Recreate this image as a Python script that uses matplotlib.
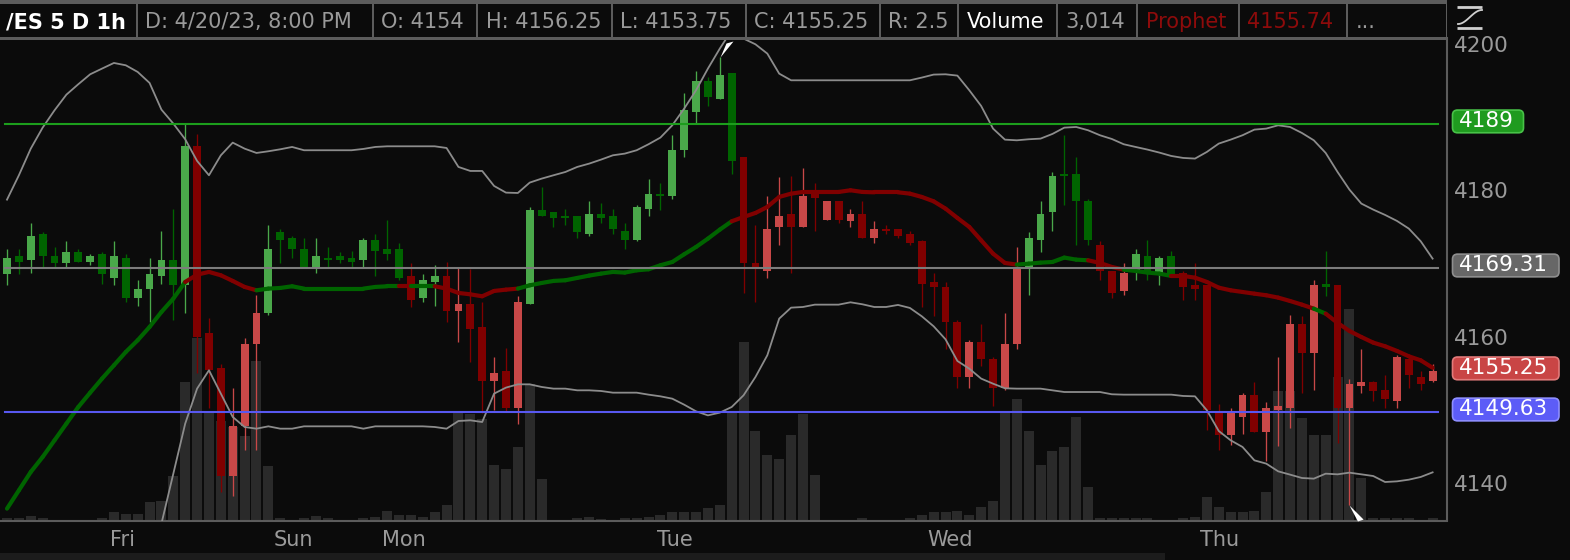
import numpy as np
import matplotlib
matplotlib.use("Agg")
import matplotlib.pyplot as plt
from matplotlib.collections import LineCollection
from matplotlib.patches import Rectangle, FancyBboxPatch

plt.rcParams['font.family'] = ['DejaVu Sans']
nan = float('nan')

# ------------------------------------------------------------------ data
symbol = '/ES 5 D 1h'
bar_time = '4/20/23, 8:00 PM'

opens = [4168.5, 4171, 4170.5, 4174, 4171, 4170, 4171.5, 4170.25, 4171.25, 4168,
         4170.75, 4165.25, 4166.5, 4168.25, 4170.5, 4167, 4186, 4160.5, 4155.75, 4141,
         4147.75, 4159, 4163.25, 4174.25, 4173.5, 4172, 4169.5, 4170.75, 4171, 4170.75,
         4170.5, 4173.25, 4172, 4172, 4168.25, 4165.25, 4167.5, 4168.25, 4163.5, 4164.5,
         4161.25, 4154, 4155.25, 4150.25, 4164.5, 4177.25, 4177, 4176.5, 4176.5, 4174,
         4176.75, 4176.5, 4174.5, 4173.25, 4177.5, 4179.5, 4179.25, 4185.5, 4190.75, 4195,
         4192.5, 4196, 4184.5, 4170, 4169, 4175, 4176.75, 4175, 4179.75, 4176,
         4178.5, 4175.75, 4176.75, 4173.5, 4174.75, 4174.75, 4174, 4173, 4167.5, 4166.75,
         4162, 4154.5, 4159.25, 4157, 4153, 4159, 4169.5, 4173.25, 4177, 4182.25,
         4182.25, 4178.5, 4172.5, 4169, 4166.25, 4169, 4171, 4168.75, 4171, 4168.75,
         4167, 4167, 4149.5, 4146.5, 4149, 4152, 4147, 4150, 4150.25, 4161.75,
         4157.75, 4167.25, 4167, 4150.25, 4153.25, 4153.75, 4152.75, 4151.25, 4157, 4154.5,
         4154]
highs = [4172, 4172, 4175.5, 4174.25, 4172.25, 4173, 4172, 4171.25, 4171.5, 4173,
         4171.25, 4167.75, 4170.75, 4174.5, 4177.5, 4189, 4187.75, 4162.5, 4156.25, 4153,
         4159.75, 4165.75, 4175.25, 4174.75, 4173.75, 4173.5, 4173.5, 4172.25, 4171.5, 4171.75,
         4173.5, 4174, 4176, 4172.75, 4170, 4168.5, 4169.75, 4170.25, 4169.5, 4169.25,
         4164.75, 4157.25, 4158.5, 4165.5, 4177.75, 4180.5, 4177, 4177.5, 4176.5, 4178.5,
         4178.25, 4177.5, 4175.5, 4178, 4181.5, 4181, 4187.5, 4193.25, 4196.25, 4195.5,
         4198.25, 4196, 4184.5, 4175.25, 4179.25, 4181.75, 4182, 4183, 4181, 4178.5,
         4178.5, 4177.5, 4178.5, 4175.75, 4175.25, 4174.75, 4174.5, 4173.25, 4168.75, 4167.5,
         4162.25, 4159.5, 4161.75, 4157.25, 4163.25, 4172.25, 4174.25, 4178.5, 4182.5, 4187.5,
         4184.5, 4178.75, 4173, 4169, 4170, 4172, 4173.25, 4171, 4171.75, 4169,
         4170, 4167, 4150.75, 4150.25, 4152.25, 4153.75, 4151, 4157.25, 4163, 4162.75,
         4167.75, 4171.75, 4167, 4154.25, 4158.25, 4154, 4154.75, 4157.5, 4157.5, 4155.25,
         4156.25]
lows = [4167, 4168.5, 4168.75, 4169.5, 4169.5, 4169.5, 4170.25, 4169.75, 4167.25, 4167,
        4164.75, 4164.25, 4162, 4167.25, 4162.25, 4163.25, 4155, 4150.25, 4138.75, 4138.25,
        4144.5, 4144.5, 4163, 4170, 4170.75, 4169.5, 4168.75, 4169.5, 4170, 4169.5,
        4169.5, 4168.25, 4170.5, 4167.75, 4164, 4164.75, 4164.25, 4162, 4159.25, 4156.5,
        4149.5, 4150, 4149.75, 4148, 4164.5, 4176.5, 4175, 4175.25, 4173.5, 4173.75,
        4175.5, 4174, 4172, 4173, 4176.5, 4177.25, 4178.75, 4184.5, 4189.25, 4191.5,
        4192.5, 4182.25, 4166, 4164.75, 4168, 4172.5, 4168.75, 4175, 4174.5, 4176,
        4175.5, 4175, 4173.5, 4172.75, 4174, 4173.5, 4172.5, 4164, 4162.75, 4158.25,
        4153, 4153, 4156, 4150.5, 4152.75, 4158.25, 4165.75, 4171.5, 4174.5, 4178,
        4172.5, 4172.5, 4167.75, 4165.25, 4165.75, 4167.75, 4167.75, 4167, 4168.25, 4165,
        4165, 4147.25, 4144.5, 4145.25, 4146.75, 4147, 4143, 4145, 4147.5, 4152.25,
        4152.75, 4165.5, 4145.5, 4137, 4152.25, 4151.25, 4150.25, 4150.25, 4153, 4152.75,
        4153.75]
closes = [4170.75, 4170.25, 4173.75, 4171, 4170, 4171.5, 4170.25, 4171, 4168.5, 4171,
          4165.25, 4166.5, 4168.5, 4170.5, 4167, 4186, 4160, 4155.5, 4141, 4147.75,
          4159, 4163.25, 4172, 4173.25, 4172, 4169.5, 4171, 4170.5, 4170.5, 4170.25,
          4173.25, 4171.75, 4171.25, 4168, 4165, 4167.75, 4168.25, 4163.5, 4164.5, 4161,
          4154, 4155, 4150.25, 4164.75, 4177.25, 4176.5, 4176.25, 4176.25, 4174.25, 4176.75,
          4176.25, 4174.75, 4173.25, 4177.75, 4179.5, 4179.25, 4185.5, 4191, 4195, 4192.75,
          4195.75, 4184, 4170, 4169.5, 4174.75, 4176.5, 4175, 4179.25, 4179, 4178.5,
          4176, 4176.75, 4173.5, 4174.75, 4174.5, 4173.75, 4172.75, 4167.25, 4166.75, 4162,
          4154.5, 4159.25, 4157, 4153, 4159, 4169.25, 4173.5, 4176.75, 4182, 4182,
          4178.5, 4173.25, 4169, 4166, 4168.75, 4171.25, 4169, 4170.75, 4168.5, 4166.75,
          4166.5, 4150, 4146.5, 4149.75, 4152, 4147, 4150.25, 4150.5, 4161.75, 4157.75,
          4167, 4166.75, 4150.25, 4153.5, 4153.75, 4152.5, 4151.5, 4157.25, 4154.75, 4153.5,
          4155.25]
# volume in thousands of contracts
volumes_k = [3.5, 3.5, 6.5, 3.5, 0.5, 0.5, 0.5, 0.5, 3.5, 12.5,
             9.5, 9.5, 27.5, 30, 66.5, 207.5, 273.5, 165, 150, 140,
             126.5, 240, 81.5, 3.5, 0.5, 3.5, 6.5, 3.5, 0.5, 0.5,
             3.5, 6, 15, 9, 9, 6, 12.5, 24, 165, 160,
             152.5, 84, 77.5, 111, 205, 62.5, 0.5, 0.5, 3.5, 6,
             2, 0.5, 3.5, 3.5, 6, 9, 12.5, 12.5, 12.5, 18.5,
             24, 165, 267.5, 135, 99, 92.5, 129, 160, 69, 0.5,
             0.5, 0.5, 3.5, 0.5, 0.5, 0.5, 3.5, 9, 12.5, 12.5,
             15, 9, 21, 30, 165, 182.5, 135, 84, 105, 111,
             156, 51, 3.5, 3.5, 3.5, 3.5, 3.5, 0.5, 0.5, 3.5,
             6, 36, 21, 12.5, 12.5, 15, 42.5, 195, 195, 153.5,
             129, 129, 215, 317.5, 63.5, 3.5, 3.5, 3.5, 3.5, 0.5,
             3.014]
# Prophet trend state per bar (G = bullish, R = bearish)
trend = ("GGGGGGGGGGGGGGGG" "RRRRRR" "GGGGGGGGGGGG" "R" "GG" "RRRRRRR"
         "GGGGGGGGGGGGGGGGGG" "RRRRRRRRRRRRRRRRRRRRRRRR" "GGGGGG" "RRR" "GGGG"
         "RRRRRRRRRRRR" "G" "RRRRRRRRR")
prophet = [4136.49, 4138.99, 4141.50, 4143.55, 4145.83, 4148.11, 4150.38, 4152.34, 4154.26, 4156.08,
           4157.90, 4159.50, 4161.32, 4163.37, 4165.19, 4167.47, 4168.47, 4168.84, 4168.38, 4167.61,
           4166.79, 4166.33, 4166.56, 4166.65, 4166.88, 4166.56, 4166.56, 4166.56, 4166.56, 4166.56,
           4166.56, 4166.79, 4166.88, 4166.88, 4166.88, 4166.88, 4166.88, 4166.56, 4165.97, 4165.78,
           4165.51, 4166.24, 4166.42, 4166.56, 4167.01, 4167.33, 4167.61, 4167.70, 4168.02, 4168.34,
           4168.61, 4168.84, 4168.75, 4169.06, 4169.20, 4169.75, 4170.20, 4171.25, 4172.25, 4173.39,
           4174.62, 4175.76, 4176.35, 4176.90, 4177.72, 4179.09, 4179.54, 4179.77, 4179.77, 4179.77,
           4179.77, 4180.00, 4179.77, 4179.72, 4179.72, 4179.72, 4179.54, 4179.09, 4178.49, 4177.49,
           4176.22, 4174.99, 4173.16, 4171.34, 4170.07, 4169.84, 4169.97, 4170.11, 4170.20, 4170.80,
           4170.52, 4170.43, 4170.07, 4169.52, 4169.15, 4168.97, 4168.75, 4168.61, 4168.29, 4168.29,
           4168.06, 4167.47, 4166.69, 4166.33, 4166.10, 4165.87, 4165.65, 4165.33, 4164.87, 4164.37,
           4163.82, 4163.14, 4161.87, 4160.77, 4159.95, 4159.18, 4158.68, 4158.04, 4157.31, 4156.76,
           4155.74]
upper_band = [4178.72, 4182.05, 4185.69, 4188.56, 4190.93, 4193.07, 4194.49, 4195.85, 4196.63, 4197.40,
              4197.08, 4196.17, 4194.67, 4191.02, 4189.11, 4186.97, 4184.01, 4182.05, 4184.78, 4186.51,
              4185.69, 4185.10, 4185.33, 4185.60, 4185.92, 4185.47, 4185.47, 4185.47, 4185.47, 4185.47,
              4185.65, 4185.92, 4186.01, 4186.01, 4186.01, 4186.01, 4186.01, 4185.78, 4183.19, 4182.64,
              4182.64, 4180.59, 4179.68, 4179.63, 4181.05, 4181.59, 4182.05, 4182.50, 4183.19, 4183.64,
              4184.19, 4184.78, 4185.01, 4185.47, 4186.29, 4187.20, 4188.88, 4191.16, 4193.67, 4196.63,
              4199.36, 4201.87, 4200.73, 4199.95, 4198.68, 4195.94, 4195.03, 4195.03, 4195.03, 4195.03,
              4195.03, 4195.03, 4195.03, 4195.03, 4195.03, 4195.03, 4195.03, 4195.40, 4195.81, 4195.85,
              4195.67, 4193.67, 4191.52, 4188.43, 4186.92, 4186.83, 4186.97, 4187.06, 4187.70, 4188.56,
              4188.65, 4188.20, 4187.52, 4187.01, 4186.29, 4185.92, 4185.56, 4185.15, 4184.69, 4184.42,
              4184.33, 4185.24, 4186.38, 4186.92, 4187.52, 4188.29, 4188.43, 4188.88, 4188.65, 4187.83,
              4186.83, 4185.10, 4182.50, 4180.09, 4178.18, 4177.36, 4176.63, 4175.81, 4174.76, 4173.03,
              4170.66]
lower_band = [nan, nan, nan, nan, nan, nan, nan, nan, nan, nan,
              nan, nan, 4130.00, 4134.44, 4141.27, 4148.11, 4152.89, 4155.40, 4152.21, 4149.02,
              4147.65, 4147.42, 4147.74, 4147.42, 4147.42, 4147.74, 4147.74, 4147.74, 4147.74, 4147.74,
              4147.42, 4147.74, 4147.74, 4147.74, 4147.74, 4147.74, 4147.65, 4147.42, 4148.47, 4148.56,
              4148.33, 4152.21, 4153.03, 4153.48, 4153.48, 4153.12, 4152.89, 4152.89, 4152.66, 4152.66,
              4152.57, 4152.34, 4152.34, 4152.34, 4152.07, 4151.84, 4151.52, 4150.70, 4149.79, 4149.24,
              4149.61, 4150.38, 4151.98, 4154.48, 4157.45, 4162.46, 4163.96, 4164.05, 4164.37, 4164.37,
              4164.37, 4164.69, 4164.42, 4164.05, 4164.05, 4164.33, 4163.92, 4162.78, 4161.41, 4159.63,
              4156.67, 4155.62, 4154.26, 4153.57, 4152.94, 4152.89, 4152.89, 4152.89, 4152.66, 4152.43,
              4152.43, 4152.43, 4152.43, 4152.12, 4152.07, 4152.07, 4152.07, 4152.07, 4152.07, 4151.89,
              4151.84, 4149.93, 4147.10, 4145.83, 4144.92, 4143.09, 4142.64, 4141.59, 4141.14, 4140.68,
              4140.59, 4141.27, 4141.18, 4141.41, 4141.18, 4140.95, 4140.13, 4140.22, 4140.45, 4140.82,
              4141.45]
level_green = 4189.0
level_gray = 4169.31
level_blue = 4149.63
price_ticks = [4140, 4150, 4160, 4170, 4180, 4190, 4200]
day_labels = ['Fri', 'Sun', 'Mon', 'Tue', 'Wed', 'Thu']
day_ticks = [9.7, 24.1, 33.4, 56.2, 79.4, 102.1]

# ------------------------------------------------------------------ style / layout
W, H = 1570, 560
BG = '#0b0b0b'
GRID_GRAY = '#5c5c5c'
TXT_GRAY = '#9a9a9a'
LIGHT_G, DARK_G = '#4aa84a', '#006400'
LIGHT_R, DARK_R = '#c84848', '#800000'
BAND = '#8c8c8c'

plot_l, plot_r, plot_t, plot_b = 0.0, 1446.5, 38.0, 520.5
bar0_px, bar_step_px = 7.0, 11.88
ymin, ymax = 4134.87, 4200.81
px_per_pt = (plot_b - plot_t) / (ymax - ymin)
box_h_px, box_lift_px = 22.7, 3.0

fig = plt.figure(figsize=(W / 100, H / 100), dpi=100, facecolor=BG)
rect = [plot_l / W, 1 - plot_b / H, (plot_r - plot_l) / W, (plot_b - plot_t) / H]
xlim = ((plot_l - bar0_px) / bar_step_px, (plot_r - bar0_px) / bar_step_px)

ax_vol = fig.add_axes(rect, label='volume')
ax = fig.add_axes(rect, label='price')
ax_vol.set_facecolor(BG)
ax.patch.set_visible(False)
for a in (ax_vol, ax):
    a.set_xlim(*xlim)
ax.set_ylim(ymin, ymax)
ax_vol.set_ylim(0, (plot_b - plot_t) * 1.5)
ax_vol.axis('off')

x = np.arange(len(opens))
o = np.array(opens, float)
hi = np.array(highs, float)
lo = np.array(lows, float)
cl = np.array(closes, float)

# volume
ax_vol.bar(x, volumes_k, width=0.84, color='#2a2a2a', linewidth=0)

# candles
cols = []
for t, op, c in zip(trend, o, cl):
    up = c > op
    if t == 'G':
        cols.append(LIGHT_G if up else DARK_G)
    else:
        cols.append(LIGHT_R if up else DARK_R)
ax.vlines(x, lo, hi, colors=cols, linewidth=0.95, zorder=3)
ax.bar(x, np.maximum(np.abs(cl - o), 0.25), bottom=np.minimum(o, cl), width=0.66,
       color=cols, linewidth=0, zorder=3.1)

# bands
ax.plot(x, upper_band, color=BAND, lw=1.3, zorder=4)
ax.plot(x, np.array(lower_band, float), color=BAND, lw=1.3, zorder=4)

# prophet line
pts = np.column_stack([x, prophet])
segs = np.stack([pts[:-1], pts[1:]], axis=1)
seg_cols = [DARK_G if t == 'G' else DARK_R for t in trend[1:]]
ax.add_collection(LineCollection(segs, colors=seg_cols, linewidths=3.0,
                                 capstyle='round', zorder=5))

# horizontal levels
lx0, lx1 = 5.3 / plot_r, 1437.5 / plot_r
ax.axhline(level_green, xmin=lx0, xmax=lx1, color='#1c9e1c', lw=1.5, zorder=6)
ax.axhline(level_gray, xmin=lx0, xmax=lx1, color='#7c7c7c', lw=1.5, zorder=6)
ax.axhline(level_blue, xmin=lx0, xmax=lx1, color='#5858f0', lw=1.5, zorder=6)

# high / low markers
hi_i, lo_i = int(np.argmax(hi)), int(np.argmin(lo))
ax.plot(x[hi_i], hi[hi_i], marker=[(0, 0), (6, 14), (13, 16), (0, 0)], ms=23,
        color='white', mew=0, zorder=7, clip_on=False)
ax.plot(x[lo_i], lo[lo_i], marker=[(0, 0), (9, -17), (15, -15), (0, 0)], ms=23,
        color='white', mew=0, zorder=7, clip_on=False)

# price label boxes (defined first so covered tick labels can be hidden)
boxes = [
    (level_green, f"{level_green:g}", '#1f9b1f', '#48c248', 71),
    (level_gray, f"{level_gray:.2f}", '#676767', '#8e8e8e', 106.5),
    (cl[-1], f"{cl[-1]:.2f}", '#c94545', '#e27a7a', 106.5),
    (level_blue, f"{level_blue:.2f}", '#5c5cf7', '#8e8eff', 106.5),
]
box_half = box_h_px / 2 / px_per_pt
lift = box_lift_px / px_per_pt


def covered(v):
    return any(abs(v - (p + lift)) < box_half + 0.2 for p, *_ in boxes)


# axes styling
for s in ('top', 'left'):
    ax.spines[s].set_visible(False)
for s in ('right', 'bottom'):
    ax.spines[s].set_color(GRID_GRAY)
    ax.spines[s].set_linewidth(1.5)
ax.yaxis.tick_right()
ax.set_yticks(price_ticks)
ax.set_yticklabels(['' if covered(v) else str(v) for v in price_ticks])
ax.tick_params(axis='y', length=0, pad=5, labelsize=15.5, labelcolor=TXT_GRAY)
ax.set_xticks(day_ticks)
ax.set_xticklabels(day_labels)
ax.tick_params(axis='x', length=0, pad=6.6, labelsize=15, labelcolor=TXT_GRAY)

ax_r = fig.add_axes([plot_r / W, 1 - plot_b / H, (W - plot_r) / W, (plot_b - plot_t) / H],
                    label='labels')
ax_r.set_xlim(0, W - plot_r)
ax_r.set_ylim(ymin, ymax)
ax_r.axis('off')

for p, txt, fc, ec, w in boxes:
    hh = box_h_px / px_per_pt
    yc = p + lift
    ax_r.add_patch(FancyBboxPatch((6, yc - hh / 2), w, hh,
                                  boxstyle='round,pad=0,rounding_size=5',
                                  mutation_aspect=1 / px_per_pt, fc=fc, ec=ec, lw=1.2,
                                  clip_on=False, zorder=5))
    ax_r.text(12.8, yc, txt, color='white', fontsize=15.5, ha='left', va='center',
              zorder=6, clip_on=False)

# header / decorations overlay (pixel coordinates)
ax_d = fig.add_axes([0, 0, 1, 1], label='deco')
ax_d.set_xlim(0, W)
ax_d.set_ylim(H, 0)
ax_d.axis('off')
ax_d.patch.set_visible(False)

ax_d.add_patch(Rectangle((0, 0), 1447, 39.5, fc=GRID_GRAY, lw=0))
bounds = [0, 136.7, 372.7, 477, 612, 746, 880, 958, 1057, 1137, 1239, 1347, 1447]


def fmt(v):
    return f"{v:g}"


vol_last = int(round(volumes_k[-1] * 1000))
cells = [
    (symbol, 'white', 'bold'),
    (f"D: {bar_time}", TXT_GRAY, 'normal'),
    (f"O: {fmt(o[-1])}", TXT_GRAY, 'normal'),
    (f"H: {fmt(hi[-1])}", TXT_GRAY, 'normal'),
    (f"L: {fmt(lo[-1])}", TXT_GRAY, 'normal'),
    (f"C: {fmt(cl[-1])}", TXT_GRAY, 'normal'),
    (f"R: {fmt(hi[-1] - lo[-1])}", TXT_GRAY, 'normal'),
    ("Volume", 'white', 'normal'),
    (f"{vol_last:,}", TXT_GRAY, 'normal'),
    ("Prophet", '#8e0b0b', 'normal'),
    (f"{prophet[-1]:.2f}", '#8e0b0b', 'normal'),
    ("...", TXT_GRAY, 'normal'),
]
for k, (txt, colr, wt) in enumerate(cells):
    x0 = bounds[k] + (0 if k == 0 else 1)
    x1 = bounds[k + 1] - 1
    ax_d.add_patch(Rectangle((x0, 3.5), x1 - x0, 33.8, fc=BG, lw=0))
    tx = 6 if k == 0 else bounds[k] + 8.5
    ax_d.text(tx, 28.3, txt, color=colr, fontsize=15, fontweight=wt,
              ha='left', va='baseline')

# study icon at top right
ax_d.plot([1457, 1482], [7, 7], color='#d0d0d0', lw=2.0, solid_capstyle='butt')
ax_d.plot([1457, 1482], [27.5, 27.5], color='#d0d0d0', lw=2.0, solid_capstyle='butt')
tt = np.linspace(0, 1, 40)
ax_d.plot(1458 + 24 * tt, 24 - 14 * (0.5 - 0.5 * np.cos(np.pi * tt)), color='#d0d0d0', lw=1.3)

# bottom strip
ax_d.add_patch(Rectangle((0, 553.3), 1165, 6.7, fc='#1c1c1c', lw=0))

fig.savefig('out.png', dpi=100, facecolor=BG)
